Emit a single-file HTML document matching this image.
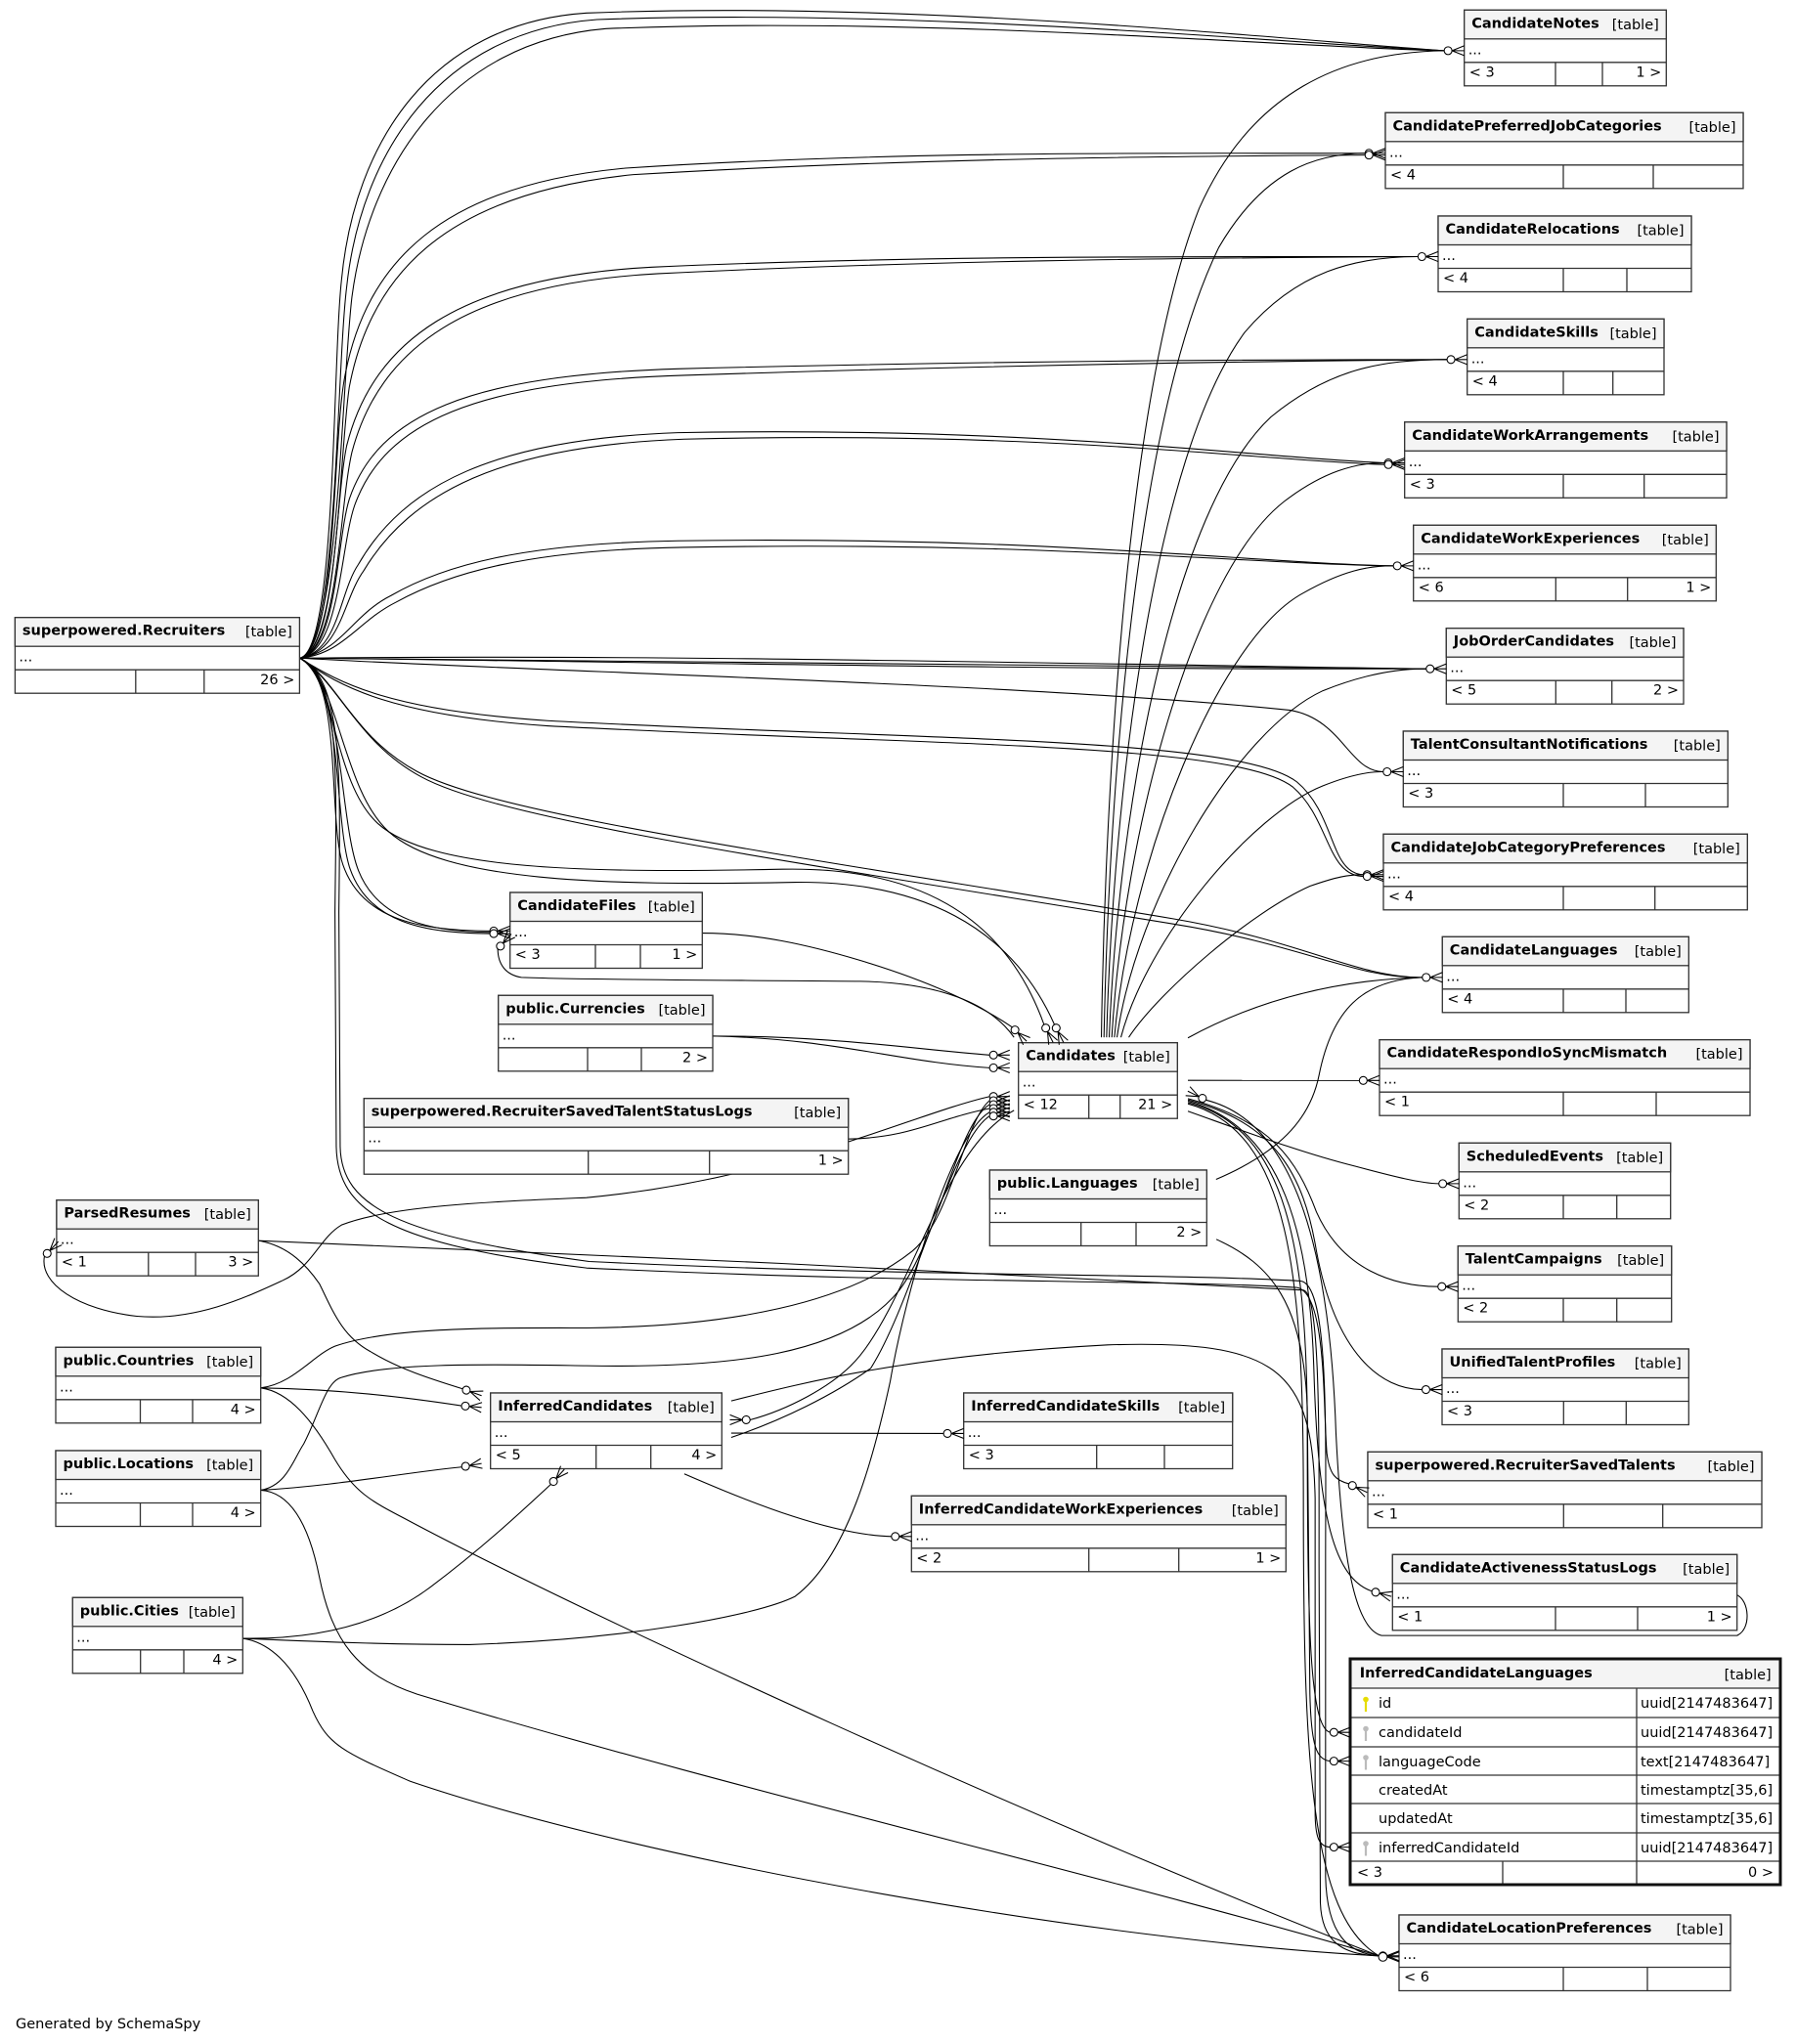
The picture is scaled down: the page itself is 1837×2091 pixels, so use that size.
<!DOCTYPE html>
<html>
<head>
<meta charset="utf-8">
<style>
html,body{margin:0;padding:0;background:#fff;}
svg{display:block;}
svg text{font-family:"DejaVu Sans","Liberation Sans",sans-serif;font-size:14.5px;fill:#000;}
svg text.b{font-weight:bold;}
.bx{fill:#fff;stroke:#333;stroke-width:1.3;}
.hd{fill:#f4f4f4;stroke:#333;stroke-width:1.3;}
.ln{fill:none;stroke:#333;stroke-width:1.3;}
.cn path{fill:none;stroke:#000;stroke-width:0.8;}
.mk path{fill:none;stroke:#000;stroke-width:0.8;}
.mk circle{fill:#fff;stroke:#000;stroke-width:0.8;}
</style>
</head>
<body>
<svg width="1837" height="2091" viewBox="0 0 1837 2091" xmlns="http://www.w3.org/2000/svg">
<rect x="0" y="0" width="1837" height="2091" fill="#fff"/>

<!-- connectors (display coords scaled) -->
<g class="cn" transform="scale(1.33315)">
<path d="M230,505 C258,500 255,280 262,215 C272,110 330,18 450,10 C700,0 980,30 1108,38.9"/>
<path d="M230,505 C259,500 258,285 266,220 C277,118 337,24 458,15 C705,6 980,33 1108,38.9"/>
<path d="M230,505 C260,498 262,295 270,228 C283,128 345,32 465,22 C710,12 980,36 1108,38.9"/>
<path d="M230,505 C258,500 255,345 264,292 C280,200 340,142 480,129 C700,115 900,118 1047.3,117.6"/>
<path d="M230,505 C260,500 260,350 268,297 C285,207 346,148 486,134 C705,121 900,120 1047.3,119"/>
<path d="M230,505 C258,500 257,385 266,342 C286,262 352,213 500,205 C700,196 900,197 1087.9,196.9"/>
<path d="M230,505 C260,500 260,390 270,347 C291,268 356,218 505,210 C705,200 900,198 1087.9,196.9"/>
<path d="M230,505 C259,500 258,415 268,383 C290,318 360,288 520,283 C800,276 1000,276 1110.2,275.9"/>
<path d="M230,505 C261,500 261,420 272,388 C295,324 364,293 525,288 C800,279 1000,277 1110.2,275.9"/>
<path d="M230,505 C260,500 260,455 275,433 C310,372 380,337 520,332 C800,327 960,351 1062.2,355.2"/>
<path d="M230,505 C262,500 263,460 279,438 C315,378 385,342 525,337 C800,330 960,353 1062.2,356.5"/>
<path d="M230,505 C262,500 270,472 300,457 C340,434 400,417 520,415 C800,411 960,432 1069,434.2"/>
<path d="M230,505 C263,502 274,477 304,462 C344,440 404,422 524,420 C800,415 960,433 1069,434.2"/>
<path d="M230,505 C500,505 800,511 1094.2,513.2"/>
<path d="M230,505 C500,502 800,509 1094.2,513.2"/>
<path d="M230,505 C500,508 800,514 1094.2,513.2"/>
<path d="M230,505 C400,515 800,525 990,545 C1030,552 1035,592 1061.2,592.2"/>
<path d="M230,505 C262,525 300,545 420,553 C700,568 950,565 995,600 C1025,625 1020,670 1045.9,671.2"/>
<path d="M230,505 C262,528 302,549 420,557 C700,572 948,569 992,604 C1020,628 1018,672 1045.9,672.5"/>
<path d="M230,505 C258,520 270,565 320,592 C380,625 600,655 900,705 C1000,722 1040,750 1091.2,750"/>
<path d="M230,505 C259,522 273,569 323,596 C383,629 600,660 900,709 C1000,725 1040,751 1091.2,750"/>
<path d="M230,505 C258,520 255,600 290,632 C330,668 450,670 600,667 C700,665 770,700 801,786.2"/>
<path d="M230,505 C260,520 262,605 298,638 C340,676 460,680 610,677 C705,676 775,710 809,786.2"/>
<path d="M230,505 C262,520 252,620 262,660 C275,705 320,714 375.8,714.4"/>
<path d="M230,505 C263,522 256,625 268,665 C282,708 325,716 375.8,716.4"/>
<path d="M230,505 C264,523 260,630 275,668 C290,706 330,715 375.8,715.4"/>
<path d="M230,505 C262,520 258,600 257,700 L258,880 C259,930 300,955 450,973 C700,985 900,982 995,988 C1018,992 1015,1080 1018,1115 C1020,1132 1025,1136 1034.9,1138.6"/>
<path d="M230,505 C264,520 261,600 260,700 L261,880 C262,926 305,948 452,968 C700,980 900,977 998,983 C1020,986 1017,1100 1017,1200 L1017,1440 C1018,1485 1035,1499 1058,1500.8"/>

<path d="M845,796 C848,600 865,300 920,160 C960,70 1030,40 1108,38.9"/>
<path d="M847,796 C851,600 872,320 935,190 C970,130 1010,118 1047.3,117.6"/>
<path d="M849,796 C854,610 885,350 955,255 C995,208 1040,197 1087.9,196.9"/>
<path d="M851,796 C858,620 900,390 975,320 C1020,283 1060,276 1110.2,275.9"/>
<path d="M853,796 C862,640 915,440 985,385 C1015,362 1040,355 1062.2,355.2"/>
<path d="M855,796 C867,660 935,490 1000,455 C1030,438 1050,434 1069,434.2"/>
<path d="M857,796 C872,690 950,560 1015,530 C1050,516 1075,513 1094.2,513.2"/>
<path d="M860,796 C880,720 960,625 1015,603 C1035,595 1050,592 1061.2,592.2"/>
<path d="M866,796 C890,760 960,700 1005,680 C1025,673 1035,671 1045.9,671.2"/>
<path d="M911.4,796.4 C960,770 1020,752 1091.2,750"/>
<path d="M933,905 C980,885 1005,860 1012,825 C1022,775 1045,752 1091.2,750"/>
<path d="M911.4,829 L1042.9,829.1"/>
<path d="M911.4,852.7 C960,870 1000,885 1040,895 C1070,903 1090,908 1103.9,908.3"/>
<path d="M911.4,843 C975,860 995,890 1010,930 C1030,975 1070,987 1103.2,987.3"/>
<path d="M911.4,844 C978,862 1000,900 1010,960 C1025,1040 1060,1066 1091,1066.3"/>
<path d="M911.4,845 C985,865 1005,950 1008,1050 C1011,1150 1020,1210 1052.5,1221"/>
<path d="M911.4,846 C988,866 1003,960 1003,1100 C1003,1250 1005,1325 1020.4,1329.3"/>
<path d="M911.4,847 C990,868 1000,980 1000,1150 C1000,1350 1005,1470 1058,1500.8"/>
<path d="M1332.7,1224 C1342,1228 1344,1250 1332.7,1255 L1060,1255 C1040,1250 1030,1200 1025,1100 C1020,950 990,860 925.2,844.1"/>
<path d="M933.2,951 C975,970 1000,1000 1003,1080 L1005,1300 C1006,1340 1010,1350 1020.4,1351.4"/>
<path d="M561,1075 C620,1060 700,1040 850,1032 C980,1028 1007,1050 1009,1150 L1009,1390 C1009,1410 1012,1417 1020.4,1417.4"/>
<path d="M198,952 C400,960 800,978 1000,990 C1013,992 1012,1100 1012,1200 L1013,1460 C1014,1490 1030,1500 1058,1500.8"/>

<path d="M546.9,795 C640,795 700,805 759.2,809.6"/>
<path d="M546.9,795 C640,797 690,815 759.2,819.4"/>
<path d="M651,874 C700,873 720,858 759.2,850.6"/>
<path d="M34.1,964 C30,985 60,1005 105,1010 C150,1014 190,995 217,982.5 C240,972 245,950 262,940 C300,925 380,922 450,919 C600,905 700,855 759.2,841.4"/>
<path d="M200,1065 C225,1062 240,1040 257,1033 C300,1018 380,1019 450,1019 C560,1018 650,1000 700,960 C730,935 740,860 759.2,844.6"/>
<path d="M200,1143.5 C220,1140 225,1120 233,1108 C245,1085 250,1060 262,1057 C300,1045 380,1047 450,1048 C560,1050 650,1040 690,990 C720,950 735,862 759.2,847.6"/>
<path d="M186.3,1257.2 C250,1260 300,1262 360,1262 C480,1258 580,1240 610,1225 C650,1195 670,1120 683,1060 C695,990 730,870 759.2,853.5"/>
<path d="M561,1103 C600,1090 640,1070 668,1050 C700,1000 730,875 759.2,856.4"/>
<path d="M575.5,1089.5 C600,1083 640,1065 660,1040 C700,990 725,880 778,852"/>
<path d="M561,1099.7 L723.9,1100"/>
<path d="M525,1131 C580,1155 640,1178 683.9,1179"/>
<path d="M198.3,952 C222,956 236,972 245,985 C255,1005 262,1025 284,1037 C305,1050 330,1058 354.9,1065.7"/>
<path d="M200,1065 C260,1066 310,1072 354,1078.7"/>
<path d="M200,1143.5 C260,1140 310,1130 354.2,1125.7"/>
<path d="M186.3,1257.2 C240,1258 290,1248 330,1218 C370,1188 400,1160 422.6,1139"/>
<path d="M200,1065 C222,1068 240,1090 257,1120 C272,1145 285,1152 310,1165 C450,1240 800,1400 1058,1500.8"/>
<path d="M200,1143.5 C225,1145 238,1175 245,1210 C255,1260 275,1285 320,1300 C550,1370 850,1440 1058,1500.8"/>
<path d="M186.3,1257.2 C205,1260 225,1275 240,1313 C252,1340 265,1345 315,1367 C500,1430 850,1490 1058,1500.8"/>
<path d="M538.8,716 C580,716 620,725 660,737 C710,752 750,770 776.6,788.2"/>
<path d="M381.9,728.2 C382,740 388,748 400,750 C450,752 550,752 660,753 C720,754 760,770 778,796"/>
</g>

<!-- tables -->
<g>
<rect class="bx" x="1497.7" y="10.3" width="206.6" height="77.5"/><rect class="hd" x="1497.7" y="10.3" width="206.6" height="29.5"/><path class="ln" d="M1497.7 63.8H1704.3M1591 63.8V87.8M1639 63.8V87.8"/>
<text class="b" x="1505.2" y="28.3">CandidateNotes</text><text x="1696.8" y="29.8" text-anchor="end">[table]</text><text x="1501.7" y="55.3">...</text><text x="1502.7" y="78.3">&lt; 3</text><text x="1699.3" y="78.3" text-anchor="end">1 &gt;</text>

<rect class="bx" x="1417" y="115.3" width="366" height="77.5"/><rect class="hd" x="1417" y="115.3" width="366" height="29.5"/><path class="ln" d="M1417 168.8H1783M1599 168.8V192.8M1691 168.8V192.8"/>
<text class="b" x="1424.5" y="133.3">CandidatePreferredJobCategories</text><text x="1775.5" y="134.8" text-anchor="end">[table]</text><text x="1421" y="160.3">...</text><text x="1422" y="183.3">&lt; 4</text>

<rect class="bx" x="1471" y="221" width="259" height="77.5"/><rect class="hd" x="1471" y="221" width="259" height="29.5"/><path class="ln" d="M1471 274.5H1730M1599 274.5V298.5M1664 274.5V298.5"/>
<text class="b" x="1478.5" y="239">CandidateRelocations</text><text x="1722.5" y="240.5" text-anchor="end">[table]</text><text x="1475" y="266">...</text><text x="1476" y="289">&lt; 4</text>

<rect class="bx" x="1500.7" y="326.3" width="201.3" height="77.5"/><rect class="hd" x="1500.7" y="326.3" width="201.3" height="29.5"/><path class="ln" d="M1500.7 379.8H1702M1599 379.8V403.8M1649.7 379.8V403.8"/>
<text class="b" x="1508.2" y="344.3">CandidateSkills</text><text x="1694.5" y="345.8" text-anchor="end">[table]</text><text x="1504.7" y="371.3">...</text><text x="1505.7" y="394.3">&lt; 4</text>

<rect class="bx" x="1436.7" y="431.8" width="329.3" height="77.5"/><rect class="hd" x="1436.7" y="431.8" width="329.3" height="29.5"/><path class="ln" d="M1436.7 485.3H1766M1599 485.3V509.3M1681.7 485.3V509.3"/>
<text class="b" x="1444.2" y="449.8">CandidateWorkArrangements</text><text x="1758.5" y="451.3" text-anchor="end">[table]</text><text x="1440.7" y="476.8">...</text><text x="1441.7" y="499.8">&lt; 3</text>

<rect class="bx" x="1445.7" y="537.3" width="309.6" height="77.5"/><rect class="hd" x="1445.7" y="537.3" width="309.6" height="29.5"/><path class="ln" d="M1445.7 590.8H1755.3M1591.3 590.8V614.8M1664.7 590.8V614.8"/>
<text class="b" x="1453.2" y="555.3">CandidateWorkExperiences</text><text x="1747.8" y="556.8" text-anchor="end">[table]</text><text x="1449.7" y="582.3">...</text><text x="1450.7" y="605.3">&lt; 6</text><text x="1750.3" y="605.3" text-anchor="end">1 &gt;</text>

<rect class="bx" x="1479.3" y="642.7" width="242.7" height="77.5"/><rect class="hd" x="1479.3" y="642.7" width="242.7" height="29.5"/><path class="ln" d="M1479.3 696.2H1722M1591.3 696.2V720.2M1648.7 696.2V720.2"/>
<text class="b" x="1486.8" y="660.7">JobOrderCandidates</text><text x="1714.5" y="662.2" text-anchor="end">[table]</text><text x="1483.3" y="687.7">...</text><text x="1484.3" y="710.7">&lt; 5</text><text x="1717" y="710.7" text-anchor="end">2 &gt;</text>

<rect class="bx" x="1435.3" y="748" width="332" height="77.5"/><rect class="hd" x="1435.3" y="748" width="332" height="29.5"/><path class="ln" d="M1435.3 801.5H1767.3M1599 801.5V825.5M1683 801.5V825.5"/>
<text class="b" x="1442.8" y="766">TalentConsultantNotifications</text><text x="1759.8" y="767.5" text-anchor="end">[table]</text><text x="1439.3" y="793">...</text><text x="1440.3" y="816">&lt; 3</text>

<rect class="bx" x="1415" y="853.3" width="372.3" height="77.5"/><rect class="hd" x="1415" y="853.3" width="372.3" height="29.5"/><path class="ln" d="M1415 906.8H1787.3M1599 906.8V930.8M1692.7 906.8V930.8"/>
<text class="b" x="1422.5" y="871.3">CandidateJobCategoryPreferences</text><text x="1779.8" y="872.8" text-anchor="end">[table]</text><text x="1419" y="898.3">...</text><text x="1420" y="921.3">&lt; 4</text>

<rect class="bx" x="1475.3" y="958.3" width="252" height="77.5"/><rect class="hd" x="1475.3" y="958.3" width="252" height="29.5"/><path class="ln" d="M1475.3 1011.8H1727.3M1599 1011.8V1035.8M1663 1011.8V1035.8"/>
<text class="b" x="1482.8" y="976.3">CandidateLanguages</text><text x="1719.8" y="977.8" text-anchor="end">[table]</text><text x="1479.3" y="1003.3">...</text><text x="1480.3" y="1026.3">&lt; 4</text>

<rect class="bx" x="1411" y="1063.7" width="379" height="77.5"/><rect class="hd" x="1411" y="1063.7" width="379" height="29.5"/><path class="ln" d="M1411 1117.2H1790M1599 1117.2V1141.2M1694 1117.2V1141.2"/>
<text class="b" x="1418.5" y="1081.7">CandidateRespondIoSyncMismatch</text><text x="1782.5" y="1083.2" text-anchor="end">[table]</text><text x="1415" y="1108.7">...</text><text x="1416" y="1131.7">&lt; 1</text>

<rect class="bx" x="1492.3" y="1169.3" width="216.4" height="77.5"/><rect class="hd" x="1492.3" y="1169.3" width="216.4" height="29.5"/><path class="ln" d="M1492.3 1222.8H1708.7M1599 1222.8V1246.8M1653.7 1222.8V1246.8"/>
<text class="b" x="1499.8" y="1187.3">ScheduledEvents</text><text x="1701.2" y="1188.8" text-anchor="end">[table]</text><text x="1496.3" y="1214.3">...</text><text x="1497.3" y="1237.3">&lt; 2</text>

<rect class="bx" x="1491.3" y="1274.7" width="218.4" height="77.5"/><rect class="hd" x="1491.3" y="1274.7" width="218.4" height="29.5"/><path class="ln" d="M1491.3 1328.2H1709.7M1599 1328.2V1352.2M1653.7 1328.2V1352.2"/>
<text class="b" x="1498.8" y="1292.7">TalentCampaigns</text><text x="1702.2" y="1294.2" text-anchor="end">[table]</text><text x="1495.3" y="1319.7">...</text><text x="1496.3" y="1342.7">&lt; 2</text>

<rect class="bx" x="1475" y="1380" width="252.3" height="77.5"/><rect class="hd" x="1475" y="1380" width="252.3" height="29.5"/><path class="ln" d="M1475 1433.5H1727.3M1599.3 1433.5V1457.5M1663.3 1433.5V1457.5"/>
<text class="b" x="1482.5" y="1398">UnifiedTalentProfiles</text><text x="1719.8" y="1399.5" text-anchor="end">[table]</text><text x="1479" y="1425">...</text><text x="1480" y="1448">&lt; 3</text>

<rect class="bx" x="1399" y="1485.3" width="403" height="77.5"/><rect class="hd" x="1399" y="1485.3" width="403" height="29.5"/><path class="ln" d="M1399 1538.8H1802M1599.3 1538.8V1562.8M1700.7 1538.8V1562.8"/>
<text class="b" x="1406.5" y="1503.3">superpowered.RecruiterSavedTalents</text><text x="1794.5" y="1504.8" text-anchor="end">[table]</text><text x="1403" y="1530.3">...</text><text x="1404" y="1553.3">&lt; 1</text>

<rect class="bx" x="1424.3" y="1590.3" width="352.4" height="77.5"/><rect class="hd" x="1424.3" y="1590.3" width="352.4" height="29.5"/><path class="ln" d="M1424.3 1643.8H1776.7M1591 1643.8V1667.8M1675 1643.8V1667.8"/>
<text class="b" x="1431.8" y="1608.3">CandidateActivenessStatusLogs</text><text x="1769.2" y="1609.8" text-anchor="end">[table]</text><text x="1428.3" y="1635.3">...</text><text x="1429.3" y="1658.3">&lt; 1</text><text x="1771.7" y="1658.3" text-anchor="end">1 &gt;</text>

<!-- InferredCandidateLanguages -->
<rect x="1381" y="1697" width="440" height="231" fill="#fff" stroke="none"/>
<rect x="1381" y="1697" width="440" height="30" fill="#f4f4f4" stroke="none"/>
<path class="ln" d="M1381 1727H1821M1381 1757H1821M1381 1787H1821M1381 1816H1821M1381 1845H1821M1381 1875H1821M1381 1904H1821M1674 1727V1928M1537 1904V1928"/>
<rect x="1381" y="1697" width="440" height="231" fill="none" stroke="#111" stroke-width="3"/>
<text class="b" x="1390.7" y="1716">InferredCandidateLanguages</text><text x="1811.7" y="1718" text-anchor="end">[table]</text>
<circle cx="1397" cy="1738.5" r="2.8" fill="#e6dc00"/><line x1="1397" y1="1740" x2="1397" y2="1751" stroke="#e6dc00" stroke-width="2.2"/>
<circle cx="1397" cy="1768.5" r="2.8" fill="#bbbbbb"/><line x1="1397" y1="1770" x2="1397" y2="1781" stroke="#bbbbbb" stroke-width="2.2"/>
<circle cx="1397" cy="1798" r="2.8" fill="#bbbbbb"/><line x1="1397" y1="1799.5" x2="1397" y2="1810.5" stroke="#bbbbbb" stroke-width="2.2"/>
<circle cx="1397" cy="1886" r="2.8" fill="#bbbbbb"/><line x1="1397" y1="1887.5" x2="1397" y2="1898.5" stroke="#bbbbbb" stroke-width="2.2"/>
<text x="1410" y="1747">id</text><text x="1678" y="1747">uuid[2147483647]</text>
<text x="1410" y="1777">candidateId</text><text x="1678" y="1777">uuid[2147483647]</text>
<text x="1410" y="1807">languageCode</text><text x="1678" y="1807">text[2147483647]</text>
<text x="1410" y="1836">createdAt</text><text x="1678" y="1836">timestamptz[35,6]</text>
<text x="1410" y="1865">updatedAt</text><text x="1678" y="1865">timestamptz[35,6]</text>
<text x="1410" y="1895">inferredCandidateId</text><text x="1678" y="1895">uuid[2147483647]</text>
<text x="1388" y="1920">&lt; 3</text><text x="1814" y="1920" text-anchor="end">0 &gt;</text>

<rect class="bx" x="1431" y="1959" width="339" height="77.5"/><rect class="hd" x="1431" y="1959" width="339" height="29.5"/><path class="ln" d="M1431 2012.5H1770M1599 2012.5V2036.5M1685 2012.5V2036.5"/>
<text class="b" x="1438.5" y="1977">CandidateLocationPreferences</text><text x="1762.5" y="1978.5" text-anchor="end">[table]</text><text x="1435" y="2004">...</text><text x="1436" y="2027">&lt; 6</text>

<rect class="bx" x="15.4" y="631.7" width="291" height="77.5"/><rect class="hd" x="15.4" y="631.7" width="291" height="29.5"/><path class="ln" d="M15.4 685.2H306.4M138.8 685.2V709.2M208.8 685.2V709.2"/>
<text class="b" x="22.9" y="649.7">superpowered.Recruiters</text><text x="298.9" y="651.2" text-anchor="end">[table]</text><text x="19.4" y="676.7">...</text><text x="301.4" y="700.2" text-anchor="end">26 &gt;</text>

<rect class="bx" x="521.7" y="913" width="196.6" height="77.5"/><rect class="hd" x="521.7" y="913" width="196.6" height="29.5"/><path class="ln" d="M521.7 966.5H718.3M609 966.5V990.5M655 966.5V990.5"/>
<text class="b" x="529.2" y="931">CandidateFiles</text><text x="710.8" y="932.5" text-anchor="end">[table]</text><text x="525.7" y="958">...</text><text x="526.7" y="981">&lt; 3</text><text x="713.3" y="981" text-anchor="end">1 &gt;</text>

<rect class="bx" x="509.7" y="1018.3" width="219.3" height="77.5"/><rect class="hd" x="509.7" y="1018.3" width="219.3" height="29.5"/><path class="ln" d="M509.7 1071.8H729M601 1071.8V1095.8M656 1071.8V1095.8"/>
<text class="b" x="517.2" y="1036.3">public.Currencies</text><text x="721.5" y="1037.8" text-anchor="end">[table]</text><text x="513.7" y="1063.3">...</text><text x="724" y="1086.3" text-anchor="end">2 &gt;</text>

<rect class="bx" x="372.3" y="1123.7" width="495.4" height="77.5"/><rect class="hd" x="372.3" y="1123.7" width="495.4" height="29.5"/><path class="ln" d="M372.3 1177.2H867.7M601.7 1177.2V1201.2M725.7 1177.2V1201.2"/>
<text class="b" x="379.8" y="1141.7">superpowered.RecruiterSavedTalentStatusLogs</text><text x="860.2" y="1143.2" text-anchor="end">[table]</text><text x="376.3" y="1168.7">...</text><text x="862.7" y="1191.7" text-anchor="end">1 &gt;</text>

<rect class="bx" x="1041.7" y="1066.7" width="162.6" height="77.5"/><rect class="hd" x="1041.7" y="1066.7" width="162.6" height="29.5"/><path class="ln" d="M1041.7 1120.2H1204.3M1113.7 1120.2V1144.2M1145.7 1120.2V1144.2"/>
<text class="b" x="1049.2" y="1084.7">Candidates</text><text x="1196.8" y="1086.2" text-anchor="end">[table]</text><text x="1045.7" y="1111.7">...</text><text x="1046.7" y="1134.7">&lt; 12</text><text x="1199.3" y="1134.7" text-anchor="end">21 &gt;</text>

<rect class="bx" x="1012.3" y="1197" width="222" height="77.5"/><rect class="hd" x="1012.3" y="1197" width="222" height="29.5"/><path class="ln" d="M1012.3 1250.5H1234.3M1105.7 1250.5V1274.5M1162 1250.5V1274.5"/>
<text class="b" x="1019.8" y="1215">public.Languages</text><text x="1226.8" y="1216.5" text-anchor="end">[table]</text><text x="1016.3" y="1242">...</text><text x="1229.3" y="1265" text-anchor="end">2 &gt;</text>

<rect class="bx" x="57.9" y="1227.7" width="206.4" height="77.5"/><rect class="hd" x="57.9" y="1227.7" width="206.4" height="29.5"/><path class="ln" d="M57.9 1281.2H264.3M151.8 1281.2V1305.2M200 1281.2V1305.2"/>
<text class="b" x="65.4" y="1245.7">ParsedResumes</text><text x="256.8" y="1247.2" text-anchor="end">[table]</text><text x="61.9" y="1272.7">...</text><text x="62.9" y="1295.7">&lt; 1</text><text x="259.3" y="1295.7" text-anchor="end">3 &gt;</text>

<rect class="bx" x="57" y="1378.3" width="209.7" height="77.5"/><rect class="hd" x="57" y="1378.3" width="209.7" height="29.5"/><path class="ln" d="M57 1431.8H266.7M143.5 1431.8V1455.8M197 1431.8V1455.8"/>
<text class="b" x="64.5" y="1396.3">public.Countries</text><text x="259.2" y="1397.8" text-anchor="end">[table]</text><text x="61" y="1423.3">...</text><text x="261.7" y="1446.3" text-anchor="end">4 &gt;</text>

<rect class="bx" x="57" y="1484" width="209.7" height="77.5"/><rect class="hd" x="57" y="1484" width="209.7" height="29.5"/><path class="ln" d="M57 1537.5H266.7M143.5 1537.5V1561.5M197 1537.5V1561.5"/>
<text class="b" x="64.5" y="1502">public.Locations</text><text x="259.2" y="1503.5" text-anchor="end">[table]</text><text x="61" y="1529">...</text><text x="261.7" y="1552" text-anchor="end">4 &gt;</text>

<rect class="bx" x="501.7" y="1425" width="236.6" height="77.5"/><rect class="hd" x="501.7" y="1425" width="236.6" height="29.5"/><path class="ln" d="M501.7 1478.5H738.3M609.7 1478.5V1502.5M665.7 1478.5V1502.5"/>
<text class="b" x="509.2" y="1443">InferredCandidates</text><text x="730.8" y="1444.5" text-anchor="end">[table]</text><text x="505.7" y="1470">...</text><text x="506.7" y="1493">&lt; 5</text><text x="733.3" y="1493" text-anchor="end">4 &gt;</text>

<rect class="bx" x="985.7" y="1425" width="275" height="77.5"/><rect class="hd" x="985.7" y="1425" width="275" height="29.5"/><path class="ln" d="M985.7 1478.5H1260.7M1121.7 1478.5V1502.5M1191 1478.5V1502.5"/>
<text class="b" x="993.2" y="1443">InferredCandidateSkills</text><text x="1253.2" y="1444.5" text-anchor="end">[table]</text><text x="989.7" y="1470">...</text><text x="990.7" y="1493">&lt; 3</text>

<rect class="bx" x="932.3" y="1530.3" width="383" height="77.5"/><rect class="hd" x="932.3" y="1530.3" width="383" height="29.5"/><path class="ln" d="M932.3 1583.8H1315.3M1113.7 1583.8V1607.8M1205.7 1583.8V1607.8"/>
<text class="b" x="939.8" y="1548.3">InferredCandidateWorkExperiences</text><text x="1307.8" y="1549.8" text-anchor="end">[table]</text><text x="936.3" y="1575.3">...</text><text x="937.3" y="1598.3">&lt; 2</text><text x="1310.3" y="1598.3" text-anchor="end">1 &gt;</text>

<rect class="bx" x="74.3" y="1634.3" width="174" height="77.5"/><rect class="hd" x="74.3" y="1634.3" width="174" height="29.5"/><path class="ln" d="M74.3 1687.8H248.3M143.7 1687.8V1711.8M188 1687.8V1711.8"/>
<text class="b" x="81.8" y="1652.3">public.Cities</text><text x="240.8" y="1653.8" text-anchor="end">[table]</text><text x="78.3" y="1679.3">...</text><text x="243.3" y="1702.3" text-anchor="end">4 &gt;</text>
</g>

<!-- markers -->
<g class="mk" transform="scale(1.33315)">
<g transform="translate(1123.5,38.9)"><path d="M-9.5 0L0 -3.8M-9.5 0H0M-9.5 0L0 3.8"/><circle cx="-12.5" cy="0" r="3"/></g>
<g transform="translate(1062.8,117.6)"><path d="M-9.5 0L0 -3.8M-9.5 0H0M-9.5 0L0 3.8"/><circle cx="-12.5" cy="0" r="3"/></g>
<g transform="translate(1062.8,119)"><path d="M-9.5 0L0 -3.8M-9.5 0H0M-9.5 0L0 3.8"/><circle cx="-12.5" cy="0" r="3"/></g>
<g transform="translate(1103.4,196.9)"><path d="M-9.5 0L0 -3.8M-9.5 0H0M-9.5 0L0 3.8"/><circle cx="-12.5" cy="0" r="3"/></g>
<g transform="translate(1125.7,275.9)"><path d="M-9.5 0L0 -3.8M-9.5 0H0M-9.5 0L0 3.8"/><circle cx="-12.5" cy="0" r="3"/></g>
<g transform="translate(1077.7,355.2)"><path d="M-9.5 0L0 -3.8M-9.5 0H0M-9.5 0L0 3.8"/><circle cx="-12.5" cy="0" r="3"/></g>
<g transform="translate(1077.7,356.5)"><path d="M-9.5 0L0 -3.8M-9.5 0H0M-9.5 0L0 3.8"/><circle cx="-12.5" cy="0" r="3"/></g>
<g transform="translate(1084.5,434.2)"><path d="M-9.5 0L0 -3.8M-9.5 0H0M-9.5 0L0 3.8"/><circle cx="-12.5" cy="0" r="3"/></g>
<g transform="translate(1109.7,513.2)"><path d="M-9.5 0L0 -3.8M-9.5 0H0M-9.5 0L0 3.8"/><circle cx="-12.5" cy="0" r="3"/></g>
<g transform="translate(1076.7,592.2)"><path d="M-9.5 0L0 -3.8M-9.5 0H0M-9.5 0L0 3.8"/><circle cx="-12.5" cy="0" r="3"/></g>
<g transform="translate(1061.4,671.2)"><path d="M-9.5 0L0 -3.8M-9.5 0H0M-9.5 0L0 3.8"/><circle cx="-12.5" cy="0" r="3"/></g>
<g transform="translate(1061.4,672.5)"><path d="M-9.5 0L0 -3.8M-9.5 0H0M-9.5 0L0 3.8"/><circle cx="-12.5" cy="0" r="3"/></g>
<g transform="translate(1106.7,750)"><path d="M-9.5 0L0 -3.8M-9.5 0H0M-9.5 0L0 3.8"/><circle cx="-12.5" cy="0" r="3"/></g>
<g transform="translate(1058.4,829.1)"><path d="M-9.5 0L0 -3.8M-9.5 0H0M-9.5 0L0 3.8"/><circle cx="-12.5" cy="0" r="3"/></g>
<g transform="translate(1119.4,908.3)"><path d="M-9.5 0L0 -3.8M-9.5 0H0M-9.5 0L0 3.8"/><circle cx="-12.5" cy="0" r="3"/></g>
<g transform="translate(1118.7,987.3)"><path d="M-9.5 0L0 -3.8M-9.5 0H0M-9.5 0L0 3.8"/><circle cx="-12.5" cy="0" r="3"/></g>
<g transform="translate(1106.5,1066.3)"><path d="M-9.5 0L0 -3.8M-9.5 0H0M-9.5 0L0 3.8"/><circle cx="-12.5" cy="0" r="3"/></g>
<g transform="translate(1048.9,1145.2) rotate(25)"><path d="M-9.5 0L0 -3.8M-9.5 0H0M-9.5 0L0 3.8"/><circle cx="-12.5" cy="0" r="3"/></g>
<g transform="translate(1067.5,1225) rotate(15)"><path d="M-9.5 0L0 -3.8M-9.5 0H0M-9.5 0L0 3.8"/><circle cx="-12.5" cy="0" r="3"/></g>
<g transform="translate(1035.9,1329.3)"><path d="M-9.5 0L0 -3.8M-9.5 0H0M-9.5 0L0 3.8"/><circle cx="-12.5" cy="0" r="3"/></g>
<g transform="translate(1035.9,1351.4)"><path d="M-9.5 0L0 -3.8M-9.5 0H0M-9.5 0L0 3.8"/><circle cx="-12.5" cy="0" r="3"/></g>
<g transform="translate(1035.9,1417.4)"><path d="M-9.5 0L0 -3.8M-9.5 0H0M-9.5 0L0 3.8"/><circle cx="-12.5" cy="0" r="3"/></g>
<g transform="translate(1073.5,1500.8)"><path d="M-9.5 0L0 -3.8M-9.5 0H0M-9.5 0L0 3.8"/><circle cx="-12.5" cy="0" r="3"/></g>
<g transform="translate(1073.5,1501.6)"><path d="M-9.5 0L0 -3.8M-9.5 0H0M-9.5 0L0 3.8"/><circle cx="-12.5" cy="0" r="3.3"/></g>

<g transform="translate(787.7,799) rotate(44)"><path d="M-9.5 0L0 -3.8M-9.5 0H0M-9.5 0L0 3.8"/><circle cx="-12.5" cy="0" r="3"/></g>
<g transform="translate(808,800) rotate(63)"><path d="M-9.5 0L0 -3.8M-9.5 0H0M-9.5 0L0 3.8"/><circle cx="-12.5" cy="0" r="3"/></g>
<g transform="translate(816,800) rotate(63)"><path d="M-9.5 0L0 -3.8M-9.5 0H0M-9.5 0L0 3.8"/><circle cx="-12.5" cy="0" r="3"/></g>
<g transform="translate(774.7,809.6)"><path d="M-9.5 0L0 -3.8M-9.5 0H0M-9.5 0L0 3.8"/><circle cx="-12.5" cy="0" r="3"/></g>
<g transform="translate(774.7,819.4)"><path d="M-9.5 0L0 -3.8M-9.5 0H0M-9.5 0L0 3.8"/><circle cx="-12.5" cy="0" r="3"/></g>
<g transform="translate(774.7,841.4)"><path d="M-9.5 0L0 -3.8M-9.5 0H0M-9.5 0L0 3.8"/><circle cx="-12.5" cy="0" r="3"/></g>
<g transform="translate(774.7,844.6)"><path d="M-9.5 0L0 -3.8M-9.5 0H0M-9.5 0L0 3.8"/><circle cx="-12.5" cy="0" r="3"/></g>
<g transform="translate(774.7,847.6)"><path d="M-9.5 0L0 -3.8M-9.5 0H0M-9.5 0L0 3.8"/><circle cx="-12.5" cy="0" r="3"/></g>
<g transform="translate(774.7,850.6)"><path d="M-9.5 0L0 -3.8M-9.5 0H0M-9.5 0L0 3.8"/><circle cx="-12.5" cy="0" r="3"/></g>
<g transform="translate(774.7,853.5)"><path d="M-9.5 0L0 -3.8M-9.5 0H0M-9.5 0L0 3.8"/><circle cx="-12.5" cy="0" r="3"/></g>
<g transform="translate(774.7,856.4)"><path d="M-9.5 0L0 -3.8M-9.5 0H0M-9.5 0L0 3.8"/><circle cx="-12.5" cy="0" r="3"/></g>
<g transform="translate(911.3,837.3) rotate(206)"><path d="M-9.5 0L0 -3.8M-9.5 0H0M-9.5 0L0 3.8"/><circle cx="-12.5" cy="0" r="3"/></g>

<g transform="translate(391.3,714.4)"><path d="M-9.5 0L0 -3.8M-9.5 0H0M-9.5 0L0 3.8"/><circle cx="-12.5" cy="0" r="3"/></g>
<g transform="translate(391.3,716.4)"><path d="M-9.5 0L0 -3.8M-9.5 0H0M-9.5 0L0 3.8"/><circle cx="-12.5" cy="0" r="3"/></g>
<g transform="translate(392.3,716.7) rotate(-48)"><path d="M-9.5 0L0 -3.8M-9.5 0H0M-9.5 0L0 3.8"/><circle cx="-12.5" cy="0" r="3"/></g>
<g transform="translate(44.7,952.7) rotate(-47)"><path d="M-9.5 0L0 -3.8M-9.5 0H0M-9.5 0L0 3.8"/><circle cx="-12.5" cy="0" r="3"/></g>
<g transform="translate(369.5,1071) rotate(20)"><path d="M-9.5 0L0 -3.8M-9.5 0H0M-9.5 0L0 3.8"/><circle cx="-12.5" cy="0" r="3"/></g>
<g transform="translate(369.5,1080) rotate(5)"><path d="M-9.5 0L0 -3.8M-9.5 0H0M-9.5 0L0 3.8"/><circle cx="-12.5" cy="0" r="3"/></g>
<g transform="translate(369.5,1123) rotate(-10)"><path d="M-9.5 0L0 -3.8M-9.5 0H0M-9.5 0L0 3.8"/><circle cx="-12.5" cy="0" r="3"/></g>
<g transform="translate(433,1127.5) rotate(-48)"><path d="M-9.5 0L0 -3.8M-9.5 0H0M-9.5 0L0 3.8"/><circle cx="-12.5" cy="0" r="3"/></g>
<g transform="translate(560,1089.5) rotate(180)"><path d="M-9.5 0L0 -3.8M-9.5 0H0M-9.5 0L0 3.8"/><circle cx="-12.5" cy="0" r="3"/></g>
<g transform="translate(739.4,1100)"><path d="M-9.5 0L0 -3.8M-9.5 0H0M-9.5 0L0 3.8"/><circle cx="-12.5" cy="0" r="3"/></g>
<g transform="translate(699.4,1179)"><path d="M-9.5 0L0 -3.8M-9.5 0H0M-9.5 0L0 3.8"/><circle cx="-12.5" cy="0" r="3"/></g>
</g>

<text x="16" y="2075">Generated by SchemaSpy</text>
</svg>
</body>
</html>
